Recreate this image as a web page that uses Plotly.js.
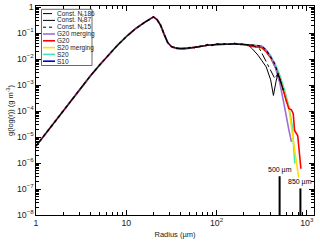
<!DOCTYPE html>
<html>
<head>
<meta charset="utf-8">
<script src="https://cdn.plot.ly/plotly-3.0.1.min.js"></script>
<style>html,body{margin:0;padding:0;background:#fff;}#chart{width:320px;height:244px;}</style>
</head>
<body>
<div id="chart"></div>
<script>
// shared rising part, peak and drop (radius in µm, g in g m^-3)
const baseR = [1, 1.26, 1.58, 2, 2.51, 3.16, 3.98, 5.01, 6.31, 7.94, 10, 12.6, 15.8, 17.8, 20, 21.9, 24, 26.3, 28.8, 31.6, 35.5, 39.8, 44.7];
const baseG = [4.47e-6, 1.26e-5, 3.72e-5, 1.07e-4, 3.02e-4, 8.32e-4, 2.19e-3, 5.62e-3, 1.41e-2, 3.31e-2, 7.24e-2, 0.145, 0.251, 0.316, 0.417, 0.331, 0.2, 0.0891, 0.0427, 0.0302, 0.0263, 0.0251, 0.0251];
// shared plateau
const midR = [50.1, 63.1, 79.4, 100, 126, 158, 200];
const midG = [0.0263, 0.0295, 0.0339, 0.0363, 0.038, 0.038, 0.0363];

// tails per series
const s10R = [251, 316, 355, 398, 447, 501, 562, 603];
const s10G = [0.0339, 0.0302, 0.0209, 0.012, 5.62e-3, 2.0e-3, 5.62e-4, 2.0e-4];
const s20R = [251, 316, 355, 398, 447, 501, 562, 631, 692, 738];
const s20G = [0.0339, 0.0316, 0.0224, 0.0132, 6.31e-3, 2.4e-3, 7.08e-4, 1.58e-4, 2.51e-5, 9.55e-7];
const s20mR = [251, 316, 355, 398, 447, 501, 562, 631, 708, 813];
const s20mG = [0.0335, 0.0269, 0.02, 0.0112, 5.01e-3, 1.78e-3, 5.01e-4, 1.41e-4, 7.41e-6, 2.75e-7];
const g20R = [251, 316, 355, 398, 447, 501, 562, 617, 631, 676, 708, 733, 794, 861];
const g20G = [0.0302, 0.0282, 0.0191, 0.0112, 5.01e-3, 1.78e-3, 5.01e-4, 2.0e-4, 1.26e-4, 1.12e-4, 7.94e-5, 1.78e-5, 1.12e-5, 6.03e-7];
const g20mR = [251, 316, 355, 398, 447, 501, 550, 589, 631, 676];
const g20mG = [0.0347, 0.0316, 0.0224, 0.0126, 5.01e-3, 1.26e-3, 2.51e-4, 6.31e-5, 2.0e-5, 6.46e-6];
const c186R = [251, 302, 339, 389, 442, 479, 513, 550];
const c186G = [0.0339, 0.024, 0.0112, 3.98e-3, 1.78e-3, 2.75e-3, 1.41e-3, 6.31e-4];
const c87R = [224, 251, 288, 316, 355, 398, 427, 457, 479, 513, 550];
const c87G = [0.0355, 0.024, 0.0141, 8.91e-3, 5.01e-3, 1.58e-3, 3.98e-4, 1.41e-3, 2.75e-3, 1.41e-3, 6.31e-4];
// Const Nr15 has its own slightly noisy plateau
const c15R = [50.1, 56.2, 63.1, 70.8, 79.4, 89.1, 100, 112, 126, 141, 158, 178, 200, 224, 251, 316, 355, 398, 437, 479, 525];
const c15G = [0.0282, 0.0269, 0.0316, 0.0302, 0.0363, 0.0331, 0.0389, 0.0355, 0.0398, 0.0363, 0.0407, 0.0355, 0.0389, 0.0339, 0.0347, 0.0309, 0.0224, 0.0115, 7.08e-3, 2.82e-3, 1.0e-3];

// size-limit markers
const limitR = [500, 850];
const limitTop = [3.1e-7, 1.05e-7];
const limitLabels = ['500 µm', '850 µm'];
const yBottom = 1e-8;

const names = ['Const. N<sub>r</sub>186', 'Const. N<sub>r</sub>87', 'Const. N<sub>r</sub>15', 'G20 merging', 'G20', 'S20 merging', 'S20', 'S10'];
const colors = ['#000000', '#000000', '#000000', '#9b6fd6', '#ff0000', '#ffe000', '#3de8b4', '#0000d0'];
const dashes = ['dashdot', 'solid', 'dot', 'solid', 'solid', 'solid', 'solid', 'solid'];
const widths = [1, 1, 1.2, 1.6, 1.6, 1.6, 1.6, 1.6];

const seriesX = [
  baseR.concat(midR, c186R), baseR.concat(midR, c87R), baseR.concat(c15R),
  baseR.concat(midR, g20mR), baseR.concat(midR, g20R), baseR.concat(midR, s20mR),
  baseR.concat(midR, s20R), baseR.concat(midR, s10R)
];
const seriesY = [
  baseG.concat(midG, c186G), baseG.concat(midG, c87G), baseG.concat(c15G),
  baseG.concat(midG, g20mG), baseG.concat(midG, g20G), baseG.concat(midG, s20mG),
  baseG.concat(midG, s20G), baseG.concat(midG, s10G)
];

const drawOrder = [7, 6, 5, 4, 3, 2, 1, 0];
const traces = [];
drawOrder.forEach(i => {
  traces.push({x: seriesX[i], y: seriesY[i], type: 'scatter', mode: 'lines', name: names[i],
    line: {color: colors[i], width: widths[i], dash: dashes[i]}, showlegend: false, hoverinfo: 'skip'});
});
limitR.forEach((r, k) => {
  traces.push({x: [r, r], y: [yBottom, limitTop[k]], type: 'scatter', mode: 'lines',
    line: {color: '#000', width: 2}, showlegend: false, hoverinfo: 'skip'});
});

const fontFam = 'Liberation Sans, Arial, sans-serif';
const shapes = [];
const annotations = [];
// custom compact legend (paper coords)
const plotL = 36, plotT = 6, plotW = 278, plotH = 209;
const px = v => (v - plotL) / plotW;
const py = v => (plotT + plotH - v) / plotH;
shapes.push({type: 'rect', xref: 'paper', yref: 'paper', x0: px(41.5), x1: px(92), y0: py(65.5), y1: py(9.3),
  line: {color: '#444', width: 0.8}, fillcolor: 'rgba(255,255,255,0)'});
names.forEach((n, i) => {
  const yy = 13.6 + 6.8 * i;
  shapes.push({type: 'line', xref: 'paper', yref: 'paper', x0: px(43), x1: px(55), y0: py(yy), y1: py(yy),
    line: {color: colors[i], width: i < 3 ? 1 : 1.6, dash: i === 0 ? 'dashdot' : (i === 2 ? 'dot' : 'solid')}});
  annotations.push({xref: 'paper', yref: 'paper', x: px(55.3), y: py(yy), xanchor: 'left', yanchor: 'middle',
    text: n, showarrow: false, font: {size: 6.5, color: '#222', family: fontFam}});
});
limitR.forEach((r, k) => {
  annotations.push({xref: 'x', yref: 'y', x: Math.log10(r), y: Math.log10(limitTop[k]), xanchor: 'center', yanchor: 'bottom',
    yshift: 0, text: limitLabels[k], showarrow: false, font: {size: 7, color: '#000', family: fontFam}});
});

const layout = {
  width: 320, height: 244,
  margin: {l: 36, r: 6, t: 6, b: 29},
  paper_bgcolor: '#fff', plot_bgcolor: '#fff',
  font: {family: fontFam, size: 7, color: '#000'},
  xaxis: {type: 'log', range: [0, 3.08], dtick: 1, exponentformat: 'power',
    ticks: 'inside', ticklen: 5, tickwidth: 1, tickcolor: '#000',
    minor: {ticks: 'inside', ticklen: 3, tickcolor: '#000', showgrid: false},
    showline: true, linecolor: '#000', linewidth: 1, mirror: 'allticks', showgrid: false, zeroline: false,
    tickfont: {size: 7, color: '#222'},
    title: {text: 'Radius (µm)', font: {size: 7.5, color: '#222'}, standoff: 4}},
  yaxis: {type: 'log', range: [-8, 0.04], dtick: 1, exponentformat: 'power',
    ticks: 'inside', ticklen: 5, tickwidth: 1, tickcolor: '#000',
    minor: {ticks: 'inside', ticklen: 3, tickcolor: '#000', showgrid: false},
    showline: true, linecolor: '#000', linewidth: 1, mirror: 'allticks', showgrid: false, zeroline: false,
    tickfont: {size: 7, color: '#222'},
    title: {text: 'g(log(r)) (g m<sup>-3</sup>)', font: {size: 7.5, color: '#222'}, standoff: 2}},
  shapes: shapes,
  annotations: annotations,
  showlegend: false
};

Plotly.newPlot('chart', traces, layout, {staticPlot: true, displayModeBar: false});
</script>
</body>
</html>
